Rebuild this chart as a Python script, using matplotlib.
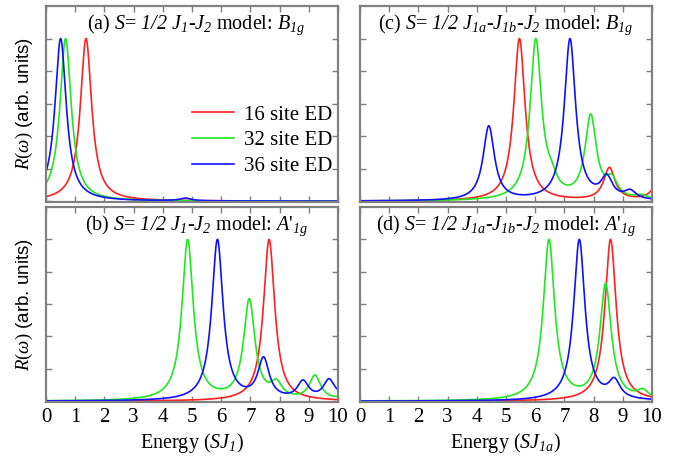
import numpy as np
import matplotlib.pyplot as plt

plt.rcParams['font.family'] = 'Liberation Serif'
plt.rcParams['mathtext.fontset'] = 'custom'
plt.rcParams['mathtext.rm'] = 'Liberation Serif'
plt.rcParams['mathtext.it'] = 'Liberation Serif:italic'
# italic digits (mathit keeps digits upright)
plt.rcParams['mathtext.sf'] = 'Liberation Serif:italic'

labels = ['16 site ED', '32 site ED', '36 site ED']
colors = ['#ff2020', '#20e820', '#1010ff']
eta = 0.235

# ED poles: (energy, weight) for 16, 32, 36 site clusters
a_E = [[1.37], [0.67], [0.50, 4.78]]
a_W = [[1.0], [1.0], [1.0, 0.016]]

b_E = [[7.64], [4.85, 6.96, 7.89, 9.21, 10.2], [5.87, 7.45, 8.80, 9.69, 10.3]]
b_W = [[1.0], [1.0, 0.62, 0.09, 0.15, 0.02], [1.0, 0.25, 0.11, 0.12, 0.05]]

c_E = [[5.46, 8.54, 10.3], [6.02, 6.55, 7.90, 8.62, 9.65], [4.41, 7.19, 8.45, 9.25]]
c_W = [[1.0, 0.2, 0.17], [1.0, 0.08, 0.52, 0.11, 0.025], [0.46, 1.0, 0.13, 0.05]]

d_E = [[8.58], [6.47, 8.41, 9.68], [7.51, 8.71]]
d_W = [[1.0], [1.0, 0.72, 0.05], [1.0, 0.11]]

titles = [r"(a) $S$= $\mathsf{1/2}$ $J_{\mathsf{1}}$-$J_{\mathsf{2}}$ model: $B_{\mathsf{1}g}$",
          r"(b) $S$= $\mathsf{1/2}$ $J_{\mathsf{1}}$-$J_{\mathsf{2}}$ model: $A$'${}_{\mathsf{1}g}$",
          r"(c) $S$= $\mathsf{1/2}$ $J_{\mathsf{1}a}$-$J_{\mathsf{1}b}$-$J_{\mathsf{2}}$ model: $B_{\mathsf{1}g}$",
          r"(d) $S$= $\mathsf{1/2}$ $J_{\mathsf{1}a}$-$J_{\mathsf{1}b}$-$J_{\mathsf{2}}$ model: $A$'${}_{\mathsf{1}g}$"]


def spectrum(x, E, W):
    y = np.zeros_like(x)
    for e, w in zip(E, W):
        y += w * eta**2 / ((x - e)**2 + eta**2)
    return y / y.max()


fig = plt.figure(figsize=(6.88, 4.61), dpi=100)
pos = [[0.0669, 0.5618, 0.4244, 0.4252], [0.0669, 0.128, 0.4244, 0.423],
       [0.5233, 0.5618, 0.4244, 0.4252], [0.5233, 0.128, 0.4244, 0.423]]
panels = [(a_E, a_W), (b_E, b_W), (c_E, c_W), (d_E, d_W)]

x = np.linspace(0, 10, 2001)
for k in range(4):
    ax = fig.add_axes(pos[k])
    E, W = panels[k]
    for i in range(3):
        ax.plot(x, spectrum(x, E[i], W[i]), color=colors[i], lw=1.2, label=labels[i])
    ax.set_xlim(0, 10)
    ax.set_ylim(-0.005, 1.2)
    ax.set_xticks(range(11))
    ax.set_yticks([0, 0.2, 0.4, 0.6, 0.8, 1.0])
    ax.set_yticklabels([])
    ax.tick_params(direction='in', top=True, right=True, length=4, width=1,
                   color='#808080', labelsize=15, pad=4)
    for s in ax.spines.values():
        s.set_color('#808080')
        s.set_linewidth(1.6)
    ax.text(0.515 if k < 2 else 0.5, 0.905, titles[k], transform=ax.transAxes,
            ha='center', va='center', fontsize=14.5)
    if k in (1, 3):
        xl = r'Energy ($SJ_{\mathsf{1}}$)' if k == 1 else r'Energy ($SJ_{\mathsf{1}a}$)'
        ax.set_xlabel(xl, fontsize=14.5, labelpad=3)
    else:
        ax.set_xticklabels([])
    if k < 2:
        ax.set_ylabel(r'$R(\omega)$ (arb. units)', family='Liberation Sans',
                      fontsize=13.5, labelpad=4)
    if k == 0:
        ax.legend(loc='upper left', bbox_to_anchor=(0.5, 0.495), frameon=False,
                  fontsize=15, handlelength=2.0, handletextpad=0.5,
                  labelspacing=0.3, borderpad=0, borderaxespad=0)

fig.savefig('out.png', dpi=100)
